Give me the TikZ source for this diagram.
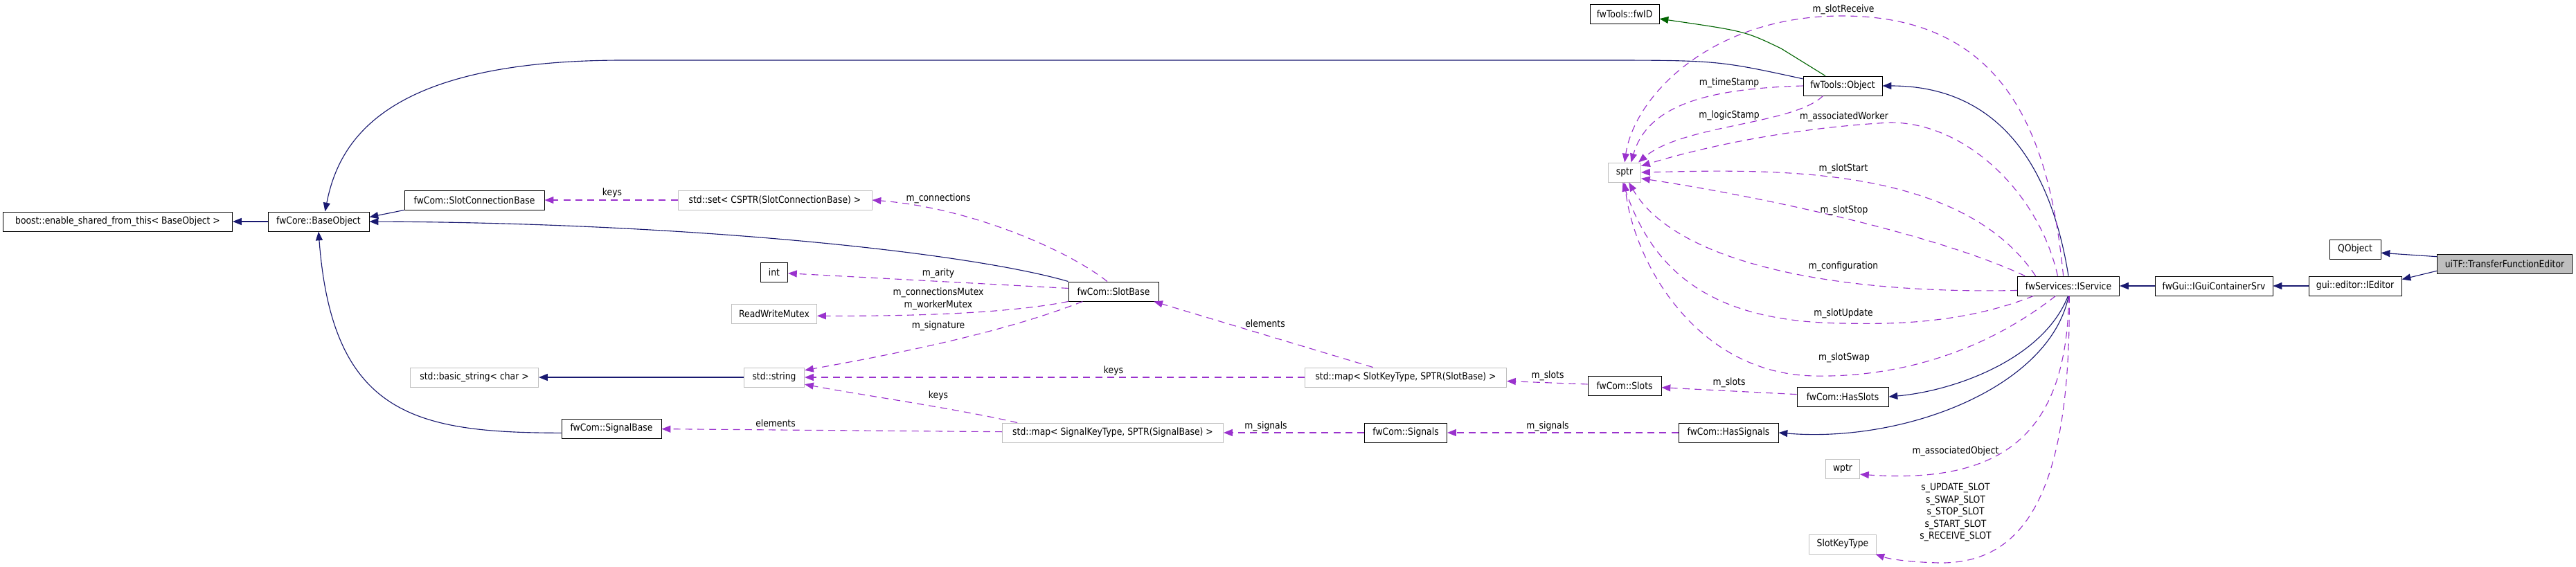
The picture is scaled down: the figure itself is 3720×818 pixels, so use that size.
\documentclass[tikz,border=0pt]{standalone}
\usepackage{fontspec}
\setmainfont{DejaVu Sans}[FakeStretch=0.88]
\usetikzlibrary{arrows.meta}
\definecolor{inhblue}{RGB}{25,25,112}
\definecolor{protgreen}{RGB}{0,100,0}
\definecolor{usepurple}{RGB}{154,50,205}
\definecolor{extgray}{RGB}{191,191,191}

\begin{document}
\begin{tikzpicture}[
  x=0.025cm, y=-0.025cm,
  every node/.style={font=\fontsize{10}{12.4}\selectfont},
  wd/.style={minimum width=#1*0.025cm},
  cls/.style={draw=black,line width=0.7pt,fill=white,minimum height=0.7cm,inner sep=1pt},
  ext/.style={draw=extgray,line width=0.7pt,fill=white,minimum height=0.7cm,inner sep=1pt},
  inh/.style={inhblue,line width=0.8pt,-{Triangle[length=0.32cm,width=0.25cm]}},
  prot/.style={protgreen,line width=0.8pt,-{Triangle[length=0.32cm,width=0.25cm]}},
  use/.style={usepurple,line width=0.8pt,dash pattern=on 0.25cm off 0.18cm,-{Triangle[length=0.32cm,width=0.25cm]}},
  lbl/.style={align=center,inner sep=0pt},
]
  \useasboundingbox (0,0) rectangle (3720,818);

  % classes
  \node[cls,wd=100] (fwid) at (2346,20) {fwTools::fwID};
  \node[cls,wd=114] (object) at (2661,124) {fwTools::Object};
  \node[ext,wd=47] (sptr) at (2346,249) {sptr};
  \node[cls,wd=74] (qobject) at (3401,360) {QObject};
  \node[cls,wd=195,fill=extgray] (tfeditor) at (3617,381) {uiTF::TransferFunctionEditor};
  \node[cls,wd=331] (enableshared) at (170,320) {boost::enable\_shared\_from\_this< BaseObject >};
  \node[cls,wd=146] (baseobject) at (460,320) {fwCore::BaseObject};
  \node[cls,wd=202] (slotconn) at (685,289) {fwCom::SlotConnectionBase};
  \node[ext,wd=280] (connset) at (1119,289) {std::set< CSPTR(SlotConnectionBase) >};
  \node[cls,wd=39] (int) at (1118,393) {int};
  \node[ext,wd=123] (rwmutex) at (1118,453) {ReadWriteMutex};
  \node[cls,wd=130] (slotbase) at (1608,421) {fwCom::SlotBase};
  \node[cls,wd=147] (iservice) at (2987,413) {fwServices::IService};
  \node[cls,wd=170] (guicontainer) at (3197,413) {fwGui::IGuiContainerSrv};
  \node[cls,wd=134] (ieditor) at (3401,413) {gui::editor::IEditor};
  \node[ext,wd=185] (basicstring) at (685,545) {std::basic\_string< char >};
  \node[ext,wd=87] (stdstring) at (1118,545) {std::string};
  \node[ext,wd=291] (slotmap) at (2030,545) {std::map< SlotKeyType, SPTR(SlotBase) >};
  \node[cls,wd=106] (slots) at (2346,557) {fwCom::Slots};
  \node[cls,wd=132] (hasslots) at (2661,573) {fwCom::HasSlots};
  \node[cls,wd=144] (signalbase) at (883,619) {fwCom::SignalBase};
  \node[ext,wd=319] (signalmap) at (1607,625) {std::map< SignalKeyType, SPTR(SignalBase) >};
  \node[cls,wd=119] (signals) at (2030,625) {fwCom::Signals};
  \node[cls,wd=144] (hassignals) at (2496,625) {fwCom::HasSignals};
  \node[ext,wd=49] (wptr) at (2661,677) {wptr};
  \node[ext,wd=97] (slotkeytype) at (2661,786) {SlotKeyType};

  % inheritance
  \draw[inh] (baseobject) -- (enableshared);
  \draw[inh] (slotconn.south west) -- (baseobject.5);
  \draw[inh] (object.170) .. controls (2480,87) .. (2300,87) -- (900,87) .. controls (560,87) and (490,200) .. (baseobject.57);
  \draw[inh] (slotbase.north west) .. controls (1400,365) and (1000,322) .. (baseobject.east);
  \draw[inh] (signalbase.185) .. controls (600,625) and (480,600) .. (baseobject.south);
  \draw[inh] (stdstring) -- (basicstring);
  \draw[inh] (iservice.north) .. controls (2960,230) and (2880,124) .. (object.east);
  \draw[inh] (guicontainer) -- (iservice);
  \draw[inh] (ieditor) -- (guicontainer);
  \draw[inh] (tfeditor.186) -- (ieditor.8);
  \draw[inh] (tfeditor.174) -- (qobject.-8);
  \draw[inh] (iservice.-92) .. controls (2950,520) and (2820,565) .. (hasslots.east);
  \draw[inh] (iservice.-89) .. controls (2960,560) and (2750,640) .. (hassignals.east);
  \draw[prot] (object.150) -- (2572,70) .. controls (2520,45) .. (fwid.-8);

  % members
  \draw[use] (connset) -- (slotconn);
  \draw[use] (slotbase.122) .. controls (1540,360) and (1400,300) .. (connset.east);
  \draw[use] (slotbase.176) -- (int.-5);
  \draw[use] (slotbase.south west) .. controls (1470,450) and (1350,457) .. (rwmutex.-3);
  \draw[use] (slotbase.198) .. controls (1450,480) and (1300,510) .. (stdstring.13);
  \draw[use] (slotmap.163) -- (slotbase.-14);
  \draw[use] (slotmap) -- (stdstring);
  \draw[use] (signalmap.174) .. controls (1380,590) and (1240,570) .. (stdstring.-13);
  \draw[use] (signalmap) -- (signalbase);
  \draw[use] (signals) -- (signalmap);
  \draw[use] (slots) -- (slotmap);
  \draw[use] (hasslots) -- (slots);
  \draw[use] (hassignals) -- (signals);
  \draw[use] (object.west) .. controls (2470,128) and (2380,150) .. (sptr.57);
  \draw[use] (object.207) .. controls (2590,180) and (2430,180) .. (sptr.36);
  \draw[use] (iservice.117) .. controls (2960,200) and (2900,23) .. (2660,23) .. controls (2470,23) and (2360,140) .. (sptr.north);
  \draw[use] (iservice.137) .. controls (2945,280) and (2840,177) .. (2730,177) .. controls (2580,185) and (2450,215) .. (sptr.21);
  \draw[use] (iservice.163) .. controls (2830,235) and (2550,245) .. (sptr.east);
  \draw[use] (iservice.167) .. controls (2800,340) and (2550,285) .. (sptr.-20);
  \draw[use] (iservice.185) .. controls (2650,425) and (2420,380) .. (sptr.-67);
  \draw[use] (iservice.196) .. controls (2830,470) and (2720,468) .. (2662,467) .. controls (2480,465) and (2390,400) .. (sptr.-100);
  \draw[use] (iservice.218) .. controls (2850,520) and (2720,545) .. (2620,543) .. controls (2450,540) and (2360,380) .. (sptr.south);
  \draw[use] (iservice.-88) .. controls (2985,620) and (2900,700) .. (wptr.-18);
  \draw[use] (iservice.-85) .. controls (2990,700) and (2930,815) .. (2800,813) .. controls (2760,812) and (2730,808) .. (slotkeytype.-17);

  % member labels
  \node[lbl] (lkeysconn) at (884,279) {keys};
  \node[lbl] (lconnections) at (1355,287) {m\_connections};
  \node[lbl] (larity) at (1355,395) {m\_arity};
  \node[lbl] (lmutex) at (1355,432) {m\_connectionsMutex\\m\_workerMutex};
  \node[lbl] (lsignature) at (1355,471) {m\_signature};
  \node[lbl] (lslotelems) at (1827,467) {elements};
  \node[lbl] (lslotkeys) at (1608,536) {keys};
  \node[lbl] (lsignalkeys) at (1355,572) {keys};
  \node[lbl] (lsignalelems) at (1120,611) {elements};
  \node[lbl] (lsignalsmap) at (1828,616) {m\_signals};
  \node[lbl] (lslotsmap) at (2235,543) {m\_slots};
  \node[lbl] (lslots) at (2497,553) {m\_slots};
  \node[lbl] (lsignals) at (2235,616) {m\_signals};
  \node[lbl] (ltime) at (2497,120) {m\_timeStamp};
  \node[lbl] (llogic) at (2497,167) {m\_logicStamp};
  \node[lbl] (lreceive) at (2662,14) {m\_slotReceive};
  \node[lbl] (lworker) at (2663,169) {m\_associatedWorker};
  \node[lbl] (lstart) at (2662,244) {m\_slotStart};
  \node[lbl] (lstop) at (2663,304) {m\_slotStop};
  \node[lbl] (lconfig) at (2662,385) {m\_configuration};
  \node[lbl] (lupdate) at (2662,453) {m\_slotUpdate};
  \node[lbl] (lswap) at (2663,517) {m\_slotSwap};
  \node[lbl] (lassocobj) at (2824,652) {m\_associatedObject};
  \node[lbl] (lslotkeys2) at (2824,740) {s\_UPDATE\_SLOT\\s\_SWAP\_SLOT\\s\_STOP\_SLOT\\s\_START\_SLOT\\s\_RECEIVE\_SLOT};
\end{tikzpicture}
\end{document}
